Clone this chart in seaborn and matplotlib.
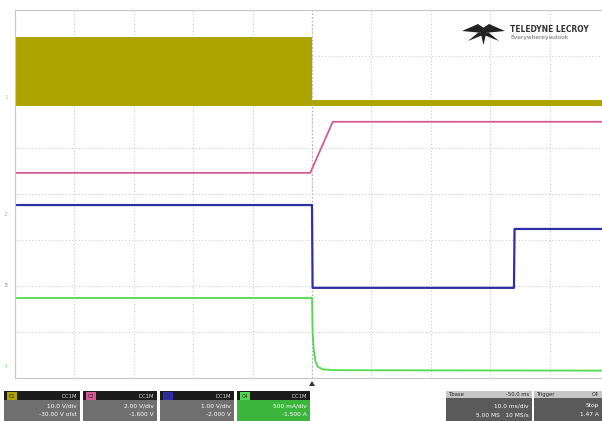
import seaborn as sns
import matplotlib.pyplot as plt
from matplotlib.patches import Rectangle, Polygon

# time in divisions (0..10), amplitude in divisions from screen centre
yellow_t = [0.0, 5.0, 5.0, 10.0]
yellow_hi = [3.41, 3.41, 2.04, 2.04]
yellow_lo = [1.91, 1.91, 1.91, 1.91]

pink_t = [0.0, 4.97, 5.35, 10.0]
pink_v = [0.46, 0.46, 1.57, 1.57]

blue_t = [0.0, 5.0, 5.01, 8.4, 8.41, 10.0]
blue_v = [-0.24, -0.24, -2.04, -2.04, -0.76, -0.76]

green_t = [0.0, 5.0, 5.01, 5.03, 5.06, 5.1, 5.18, 5.35, 10.0]
green_v = [-2.26, -2.26, -3.0, -3.4, -3.65, -3.76, -3.81, -3.83, -3.84]

# channel offset markers (left edge)
marker_labels = ["1", "2", "3", "4"]
marker_pos = [2.1, -0.45, -1.98, -3.75]

# bottom bar texts
chan_scale = ["10.0 V/div", "2.00 V/div", "1.00 V/div", "500 mA/div"]
chan_ofst = ["-30.00 V ofst", "-1.600 V", "-2.000 V", "-1.500 A"]
chan_head = ["DC1M", "DC1M", "DC1M", "DC1M"]

C_YEL = "#ada400"
C_PINK = "#d65a92"
C_BLUE = "#2e2ea8"
C_GRN = "#4fdc4f"
CHAN_COLORS = [C_YEL, C_PINK, C_BLUE, C_GRN]

W, H = 602, 421


def fx(px):
    return px / W


def fy(py):
    return 1 - py / H


sns.set_theme(style="white")
fig = plt.figure(figsize=(6.02, 4.21), dpi=100)
fig.patch.set_facecolor("white")

# plot area: x 15..609 px (10 div), y 10..378 px (8 div)
ax = fig.add_axes([fx(15), fy(378), (609 - 15) / W, 368 / H])
ax.set_xlim(0, 10)
ax.set_ylim(-4, 4)
ax.set_xticks(range(11))
ax.set_yticks(range(-4, 5))
ax.tick_params(length=0, labelbottom=False, labelleft=False)
ax.grid(True, linestyle=(0, (1, 2)), color="#cccccc", linewidth=0.8)
for s in ax.spines.values():
    s.set_color("#c8c8c8")
    s.set_linewidth(0.8)
ax.axvline(5, color="#b0b0b0", linestyle=(0, (1, 2)), linewidth=0.9)

ax.fill_between(yellow_t, yellow_lo, yellow_hi, color=C_YEL, linewidth=0)
sns.lineplot(x=pink_t, y=pink_v, ax=ax, color=C_PINK, linewidth=1.3,
             estimator=None, sort=False)
sns.lineplot(x=blue_t, y=blue_v, ax=ax, color=C_BLUE, linewidth=1.6,
             estimator=None, sort=False)
sns.lineplot(x=green_t, y=green_v, ax=ax, color=C_GRN, linewidth=1.3,
             estimator=None, sort=False)

for lab, pos, c in zip(marker_labels, marker_pos, CHAN_COLORS):
    ax.text(-0.12, pos, lab, color=c, fontsize=4.5, ha="right", va="center",
            alpha=0.6, clip_on=False)

# logo
bird = [
    [(462, 31), (478, 24), (484, 28), (483, 33)],
    [(505, 31), (489, 24), (483, 28), (484, 33)],
    [(468, 41), (479, 32), (483, 35)],
    [(499, 41), (488, 32), (484, 35)],
    [(483.5, 45), (480, 30), (487, 30)],
]
for tri in bird:
    fig.add_artist(Polygon([(fx(a), fy(b)) for a, b in tri], closed=True,
                           transform=fig.transFigure, color="#222222", lw=0))
fig.text(fx(510), fy(29), "TELEDYNE LECROY", fontsize=6, color="#333333",
         fontweight="bold", va="center", ha="left", fontstretch="condensed")
fig.text(fx(510), fy(38), "Everywhereyoulook", fontsize=4.2, color="#666666",
         va="center", ha="left")

# trigger marker
fig.add_artist(Polygon([(fx(309), fy(386)), (fx(315), fy(386)), (fx(312), fy(381))],
                       transform=fig.transFigure, color="#333333", lw=0))

# channel boxes
boxes = [(4, 80), (83, 157), (160, 234), (237, 310)]
for i, (x0, x1) in enumerate(boxes):
    low = "#3cb53c" if i == 3 else "#6f6f6f"
    fig.add_artist(Rectangle((fx(x0), fy(421)), fx(x1 - x0), (421 - 400) / H,
                             transform=fig.transFigure, color=low, lw=0))
    fig.add_artist(Rectangle((fx(x0), fy(400)), fx(x1 - x0), 9 / H,
                             transform=fig.transFigure, color="#1c1c1c", lw=0))
    fig.add_artist(Rectangle((fx(x0 + 3), fy(400)), fx(10), 8 / H,
                             transform=fig.transFigure, color=CHAN_COLORS[i], lw=0))
    fig.text(fx(x0 + 8), fy(396), f"C{i + 1}", fontsize=3.5, color="#222222",
             ha="center", va="center")
    fig.text(fx(x1 - 3), fy(396), chan_head[i], fontsize=3.8, color="#dddddd",
             ha="right", va="center")
    fig.text(fx(x1 - 3), fy(406), chan_scale[i], fontsize=4.2, color="white",
             ha="right", va="center")
    fig.text(fx(x1 - 3), fy(415), chan_ofst[i], fontsize=4.2, color="white",
             ha="right", va="center")

# timebase / trigger boxes
right_boxes = [(446, 532, "Tbase", "-50.0 ms", "10.0 ms/div", "5.00 MS   10 MS/s"),
               (534, 602, "Trigger", "C4", "Stop", "1.47 A")]
for x0, x1, h1, h2, l1, l2 in right_boxes:
    fig.add_artist(Rectangle((fx(x0), fy(421)), fx(x1 - x0), (421 - 398) / H,
                             transform=fig.transFigure, color="#5a5a5a", lw=0))
    fig.add_artist(Rectangle((fx(x0), fy(398)), fx(x1 - x0), 7 / H,
                             transform=fig.transFigure, color="#c6c6c6", lw=0))
    fig.text(fx(x0 + 3), fy(394.5), h1, fontsize=3.8, color="#222222",
             ha="left", va="center")
    fig.text(fx(x1 - 3), fy(394.5), h2, fontsize=3.8, color="#222222",
             ha="right", va="center")
    fig.text(fx(x1 - 3), fy(406), l1, fontsize=4.2, color="white",
             ha="right", va="center")
    fig.text(fx(x1 - 3), fy(415), l2, fontsize=4.2, color="white",
             ha="right", va="center")

fig.savefig("out.png", dpi=100)
